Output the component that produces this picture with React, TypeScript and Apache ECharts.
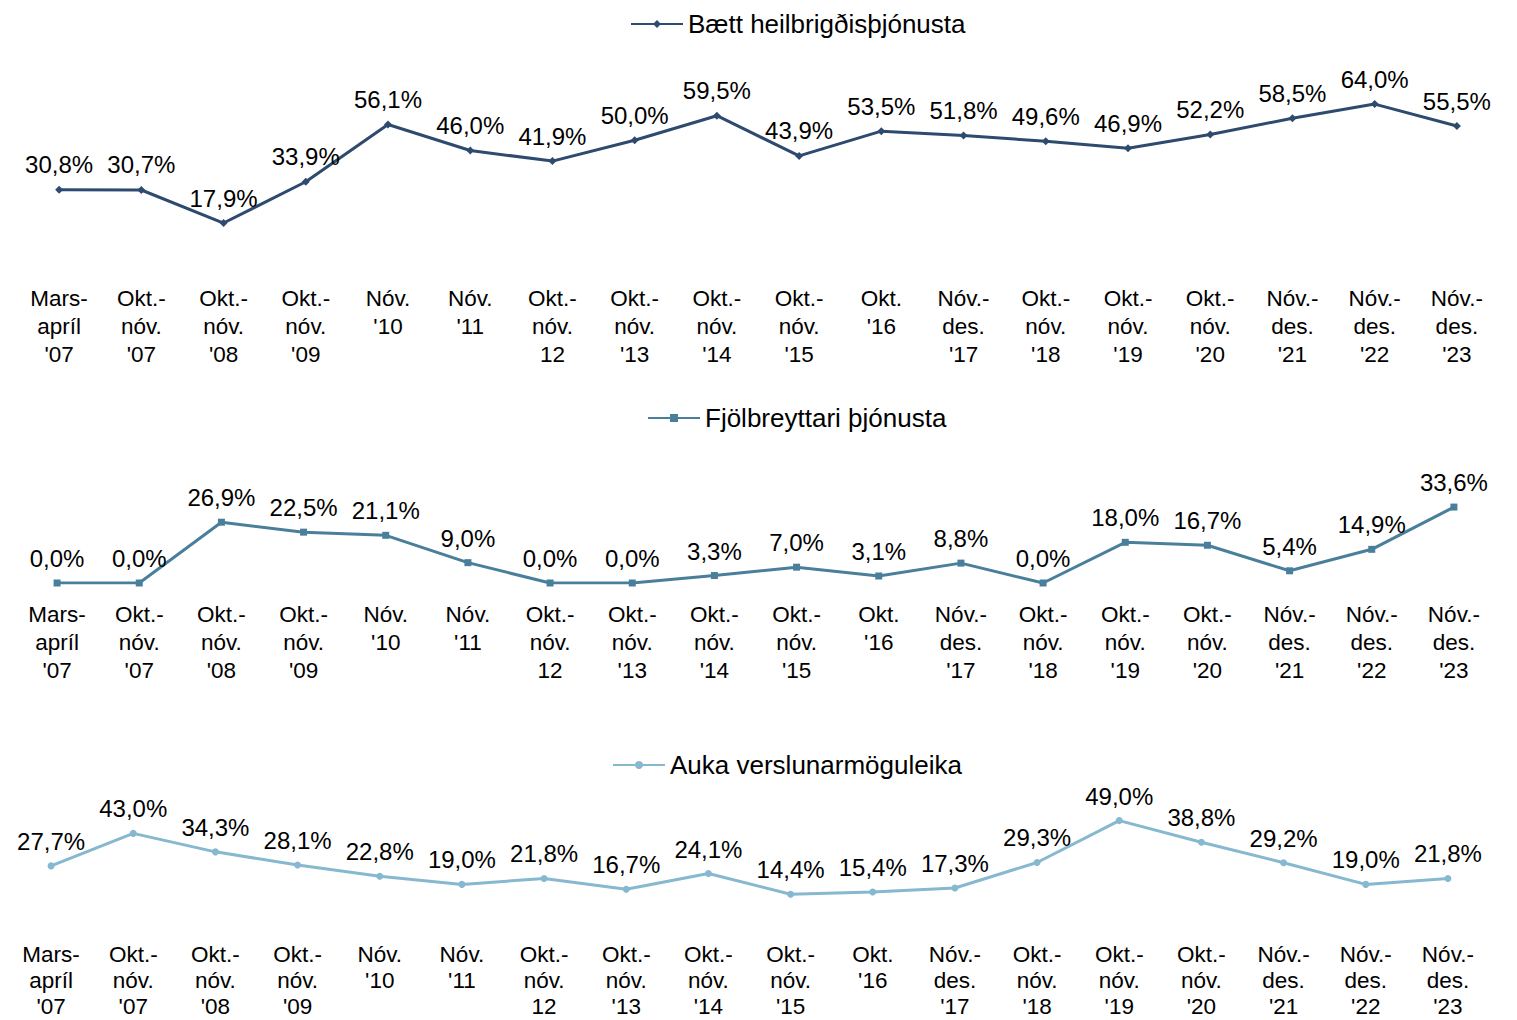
import React, { useEffect, useRef } from "react";
import * as echarts from "echarts";

const categories = [
  "Mars-\napríl\n'07",
  "Okt.-\nnóv.\n'07",
  "Okt.-\nnóv.\n'08",
  "Okt.-\nnóv.\n'09",
  "Nóv.\n'10",
  "Nóv.\n'11",
  "Okt.-\nnóv.\n12",
  "Okt.-\nnóv.\n'13",
  "Okt.-\nnóv.\n'14",
  "Okt.-\nnóv.\n'15",
  "Okt.\n'16",
  "Nóv.-\ndes.\n'17",
  "Okt.-\nnóv.\n'18",
  "Okt.-\nnóv.\n'19",
  "Okt.-\nnóv.\n'20",
  "Nóv.-\ndes.\n'21",
  "Nóv.-\ndes.\n'22",
  "Nóv.-\ndes.\n'23",
];

const seriesNames = [
  "Bætt heilbrigðisþjónusta",
  "Fjölbreyttari þjónusta",
  "Auka verslunarmöguleika",
];

const healthValues = [30.8, 30.7, 17.9, 33.9, 56.1, 46.0, 41.9, 50.0, 59.5, 43.9, 53.5, 51.8, 49.6, 46.9, 52.2, 58.5, 64.0, 55.5];
const serviceValues = [0, 0, 26.9, 22.5, 21.1, 9.0, 0, 0, 3.3, 7.0, 3.1, 8.8, 0, 18.0, 16.7, 5.4, 14.9, 33.6];
const shoppingValues = [27.7, 43.0, 34.3, 28.1, 22.8, 19.0, 21.8, 16.7, 24.1, 14.4, 15.4, 17.3, 29.3, 49.0, 38.8, 29.2, 19.0, 21.8];

const colors = ["#2E4A6F", "#4A7F9C", "#86B8CF"];
const symbols = ["diamond", "rect", "circle"];
const symbolSizes = [8, 7, 7];
const yMax = [70, 40, 60];

const FONT = "'Liberation Sans', Arial, sans-serif";

const grids = [
  { left: 18, width: 1480, top: 88.6, height: 180.6 },
  { left: 16, width: 1479, top: 492.6, height: 90.4 },
  { left: 10, width: 1479, top: 797.2, height: 127.6 },
];
const labelMargins = [15, 17, 17];
const labelLineHeights = [28, 28, 26];
const legendLefts = [625, 642, 607];
const legendTops = [6, 400, 747];

const fmt = (v: number) => v.toFixed(1).replace(".", ",") + "%";

export default function App() {
  const ref = useRef<HTMLDivElement>(null);
  useEffect(() => {
    if (!ref.current) return;
    const chart = echarts.init(ref.current, null, { renderer: "svg" });
    const data = [healthValues, serviceValues, shoppingValues];
    const option: any = {
      animation: false,
      backgroundColor: "#ffffff",
      textStyle: { fontFamily: FONT },
      legend: seriesNames.map((name, i) => ({
        data: [name],
        left: legendLefts[i],
        top: legendTops[i],
        itemWidth: 52,
        itemHeight: 10,
        itemGap: 8,
        textStyle: { fontSize: 26, color: "#000", fontFamily: FONT },
      })),
      grid: grids.map((g) => ({ ...g, containLabel: false, outerBoundsMode: "none" })),
      xAxis: grids.map((_, i) => ({
        type: "category",
        gridIndex: i,
        data: categories,
        boundaryGap: true,
        axisLine: { show: false },
        axisTick: { show: false },
        axisLabel: {
          interval: 0,
          margin: labelMargins[i],
          fontSize: 22.5,
          lineHeight: labelLineHeights[i],
          color: "#000",
          fontFamily: FONT,
        },
        splitLine: { show: false },
      })),
      yAxis: grids.map((_, i) => ({
        type: "value",
        gridIndex: i,
        min: 0,
        max: yMax[i],
        show: false,
        splitLine: { show: false },
      })),
      series: seriesNames.map((name, i) => ({
        name,
        type: "line",
        xAxisIndex: i,
        yAxisIndex: i,
        data: data[i],
        symbol: symbols[i],
        symbolSize: symbolSizes[i],
        showAllSymbol: true,
        lineStyle: { color: colors[i], width: 3 },
        itemStyle: { color: colors[i] },
        label: {
          show: true,
          position: "top",
          distance: 9,
          fontSize: 24,
          color: "#000",
          fontFamily: FONT,
          formatter: (p: any) => fmt(p.value),
        },
      })),
    };
    chart.setOption(option);
    return () => chart.dispose();
  }, []);
  return (
    <div
      ref={ref}
      style={{ position: "fixed", left: 0, top: 0, width: 1517, height: 1020 }}
    />
  );
}
